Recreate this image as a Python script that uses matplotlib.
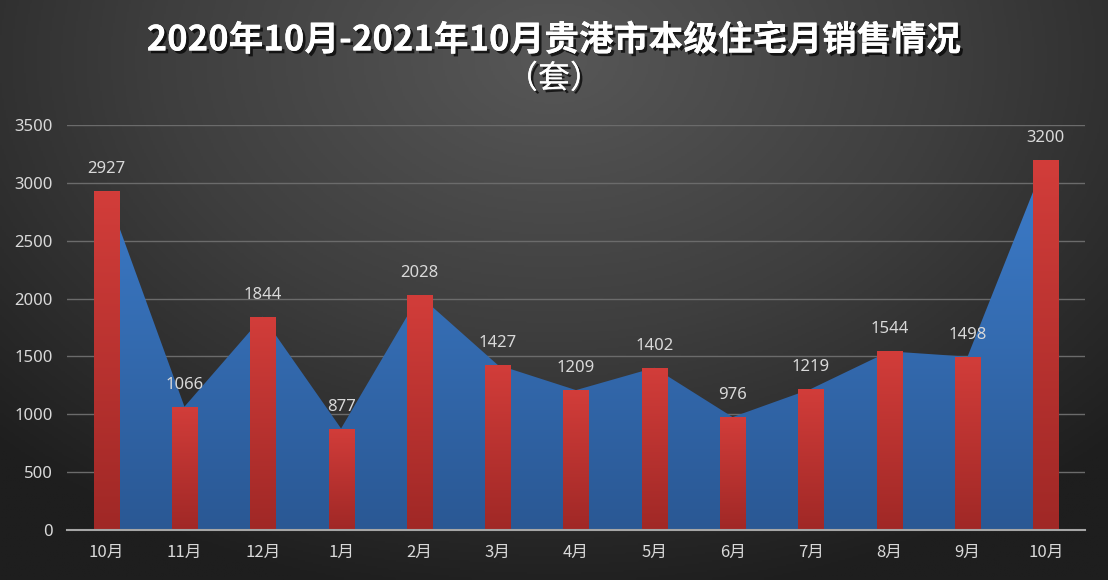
import numpy as np
import matplotlib
matplotlib.use("Agg")
import matplotlib.pyplot as plt
import matplotlib.patheffects as pe
from matplotlib.colors import LinearSegmentedColormap

plt.rcParams['font.family'] = ['Noto Sans CJK SC', 'DejaVu Sans']

categories = ["10月", "11月", "12月", "1月", "2月", "3月", "4月", "5月", "6月", "7月", "8月", "9月", "10月"]
sales = [2927, 1066, 1844, 877, 2028, 1427, 1209, 1402, 976, 1219, 1544, 1498, 3200]
yticks = [0, 500, 1000, 1500, 2000, 2500, 3000, 3500]
title_line1 = "2020年10月-2021年10月贵港市本级住宅月销售情况"
title_line2 = "（套）"

W, H = 1108, 580
fig = plt.figure(figsize=(W / 100, H / 100), dpi=100)

# background radial gradient
bg = fig.add_axes([0, 0, 1, 1], zorder=-10)
yy, xx = np.mgrid[0:1:300j, 0:1:600j]
r = np.sqrt(((xx - 0.5) / 0.75) ** 2 + ((yy - 0.1) / 1.0) ** 2)
r = np.clip(r / 0.95, 0, 1)
bg_cmap = LinearSegmentedColormap.from_list("bg", ["#575757", "#3e3e3e", "#1e1e1e"])
bg.imshow(r, cmap=bg_cmap, aspect="auto", extent=[0, 1, 0, 1], origin="upper", vmin=0, vmax=1)
bg.set_axis_off()

ax = fig.add_axes([67 / W, 50 / H, (1085 - 67) / W, (530 - 125) / H])
ax.patch.set_alpha(0)
x = np.arange(len(categories))
ax.set_xlim(-0.5, len(categories) - 0.5)
ax.set_ylim(0, 3500)

# area with vertical gradient
area = ax.fill_between(x, sales, 0, color="none", linewidth=0, zorder=2)
grad = np.linspace(1, 0, 256).reshape(-1, 1)
area_cmap = LinearSegmentedColormap.from_list("area", ["#2a5894", "#3d7dcb"])
img = ax.imshow(grad, cmap=area_cmap, aspect="auto",
                extent=[x[0], x[-1], 0, max(sales)], origin="upper", zorder=2)
img.set_clip_path(area.get_paths()[0], transform=ax.transData)

# bars with vertical gradient
bar_cmap = LinearSegmentedColormap.from_list("bar", ["#a02826", "#d23d3a"])
bars = ax.bar(x, sales, width=0.32, color="none", linewidth=0, zorder=3)
for b in bars:
    bi = ax.imshow(grad, cmap=bar_cmap, aspect="auto",
                   extent=[b.get_x(), b.get_x() + b.get_width(), 0, b.get_height()],
                   origin="upper", zorder=3)
    bi.set_clip_path(b)

for xi, v in zip(x, sales):
    ax.annotate(str(v), (xi, v), xytext=(0, 10), textcoords="offset points",
                ha="center", va="bottom", color="#d9d9d9", fontsize=12,
                family=["Noto Sans", "DejaVu Sans"], zorder=5)

ax.set_xlim(-0.5, len(categories) - 0.5)
ax.set_ylim(0, 3500)
ax.set_yticks(yticks)
ax.set_yticklabels([str(t) for t in yticks], family=["Noto Sans", "DejaVu Sans"])
ax.set_xticks(x)
ax.set_xticklabels(categories)
ax.tick_params(axis="both", length=0, colors="#d9d9d9", labelsize=12)
ax.tick_params(axis="y", pad=10)
ax.tick_params(axis="x", pad=10)
ax.grid(axis="y", color="#6b6b6b", linewidth=1, zorder=0)
ax.set_axisbelow(True)
for s in ["top", "right", "left"]:
    ax.spines[s].set_visible(False)
ax.spines["bottom"].set_color("#a6a6a6")
ax.spines["bottom"].set_linewidth(1.5)
ax.spines["bottom"].set_zorder(6)

shadow = [pe.withSimplePatchShadow(offset=(2, -2), shadow_rgbFace="black", alpha=0.7), pe.Normal()]
fig.text(0.5, 1 - 40 / H, title_line1,
         ha="center", va="center", color="white", fontsize=25, fontweight="bold",
         path_effects=shadow)
fig.text(0.5, 1 - 79 / H, title_line2,
         ha="center", va="center", color="white", fontsize=23, fontweight="normal",
         path_effects=shadow)

fig.savefig("out.png", dpi=100)
